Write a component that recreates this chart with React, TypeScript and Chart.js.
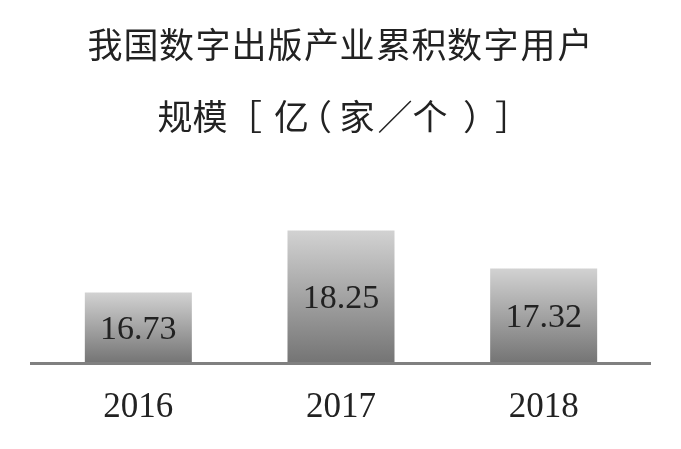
import React, { useEffect, useRef } from 'react';
import { Chart, registerables } from 'chart.js';

Chart.register(...registerables);

const categories = ['2016', '2017', '2018'];
const values = [16.73, 18.25, 17.32];
const titleLine1 = '我国数字出版产业累积数字用户';
const titleLine2 = '规模［亿（家／个）］';
const yMin = 15;
const yMax = 19;

const SERIF = '"Liberation Serif", "Times New Roman", serif';
const CJK = '"Noto Sans CJK SC", sans-serif';

// ink-centre x positions of the title glyphs
const line1Centers = Array.from(titleLine1).map((_, i) => 105 + i * 36);
const line2Centers = [175, 210, 256, 291, 326, 357.5, 395, 430, 469, 501];

function drawCentered(ctx: CanvasRenderingContext2D, ch: string, cx: number, cy: number) {
  ctx.textAlign = 'left';
  ctx.textBaseline = 'middle';
  const m = ctx.measureText(ch);
  const x = cx - (m.actualBoundingBoxRight - m.actualBoundingBoxLeft) / 2;
  ctx.fillText(ch, x, cy);
}

const decorPlugin = {
  id: 'decor',
  afterDatasetsDraw(chart: any) {
    const { ctx, chartArea } = chart;
    ctx.save();
    // baseline
    ctx.fillStyle = '#808080';
    ctx.fillRect(30, chartArea.bottom - 1, 621, 3);
    // value labels
    const meta = chart.getDatasetMeta(0);
    ctx.fillStyle = '#222222';
    ctx.font = `34px ${SERIF}`;
    ctx.textAlign = 'center';
    ctx.textBaseline = 'middle';
    meta.data.forEach((bar: any, i: number) => {
      const mid = (bar.y + chartArea.bottom) / 2 + 2;
      ctx.fillText(values[i].toFixed(2), bar.x, mid);
    });
    // title
    ctx.font = `35px ${CJK}`;
    ctx.fillStyle = '#222222';
    Array.from(titleLine1).forEach((ch, i) => drawCentered(ctx, ch, line1Centers[i], 45));
    Array.from(titleLine2).forEach((ch, i) => drawCentered(ctx, ch, line2Centers[i], 117));
    ctx.restore();
  },
};

export default function App() {
  const ref = useRef<HTMLCanvasElement>(null);
  useEffect(() => {
    if (!ref.current) return;
    const chart = new Chart(ref.current, {
      type: 'bar',
      data: {
        labels: categories,
        datasets: [
          {
            data: values,
            borderWidth: 0,
            categoryPercentage: 1,
            barPercentage: 0.528,
            backgroundColor: (c: any) => {
              const chart = c.chart;
              const area = chart.chartArea;
              if (!area || c.type !== 'data') return '#a0a0a0';
              const top = chart.scales.y.getPixelForValue(c.parsed.y);
              const g = chart.ctx.createLinearGradient(0, top, 0, area.bottom);
              g.addColorStop(0, '#d2d2d2');
              g.addColorStop(1, '#747474');
              return g;
            },
          },
        ],
      },
      options: {
        animation: false,
        responsive: true,
        maintainAspectRatio: false,
        layout: { padding: { top: 200, left: 37, right: 36, bottom: 0 } },
        plugins: {
          legend: { display: false },
          title: { display: false },
          tooltip: { enabled: false },
        },
        scales: {
          x: {
            grid: { display: false, drawTicks: false },
            border: { display: false },
            ticks: {
              color: '#222222',
              font: { family: SERIF, size: 35 },
              padding: 24,
            },
            afterFit: (s: any) => {
              s.height = 86;
            },
          },
          y: {
            display: false,
            min: yMin,
            max: yMax,
          },
        },
      },
      plugins: [decorPlugin],
    });
    return () => chart.destroy();
  }, []);
  return (
    <div style={{ position: 'absolute', left: 0, top: 0, width: 681, height: 449, background: '#fff' }}>
      <canvas ref={ref} />
    </div>
  );
}
